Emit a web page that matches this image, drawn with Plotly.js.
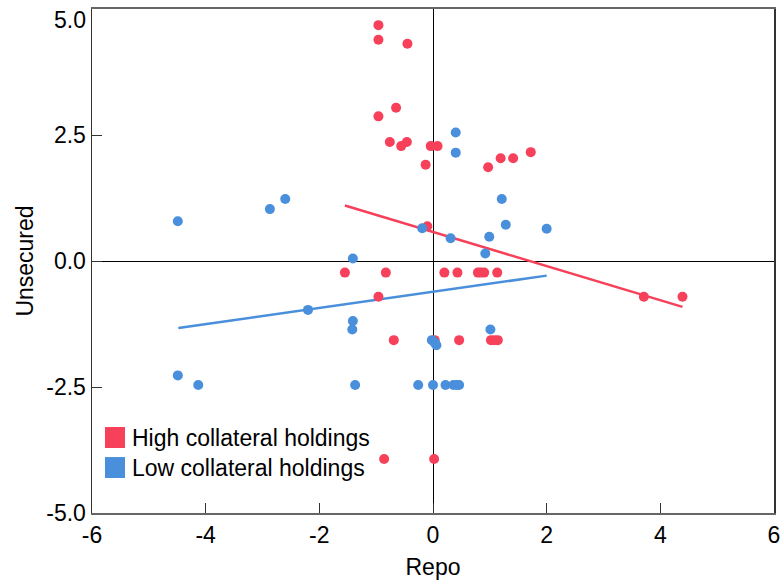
<!DOCTYPE html>
<html>
<head>
<meta charset="utf-8">
<script src="https://cdn.plot.ly/plotly-3.0.1.min.js"></script>
<style>html,body{margin:0;padding:0;background:#fff;}#chart{width:784px;height:585px;}</style>
</head>
<body>
<div id="chart"></div>
<script>
// Data
const highRepo = [-0.96, -0.96, -0.45, -0.65, -0.96, -0.76, -0.56, -0.46, -0.04, 0.08, -0.13,
  0.97, 1.19, 1.41, 1.72, -0.10,
  -1.55, -0.83, 0.20, 0.43, 0.79, 0.84, 0.90, 1.13,
  -0.96, 3.71, 4.39,
  -0.69, 0.03, 0.46, 1.02, 1.08, 1.14,
  -0.86, 0.02];
const highUnsecured = [4.68, 4.39, 4.31, 3.04, 2.87, 2.36, 2.28, 2.36, 2.28, 2.28, 1.91,
  1.86, 2.04, 2.04, 2.16, 0.69,
  -0.23, -0.23, -0.23, -0.23, -0.23, -0.23, -0.23, -0.23,
  -0.71, -0.71, -0.71,
  -1.57, -1.57, -1.57, -1.57, -1.57, -1.57,
  -3.93, -3.93];
const lowRepo = [-4.49, -2.87, -2.60, -0.19, -1.41,
  0.40, 0.40, 1.21, 1.28, 2.00, 0.31, 0.99, 0.92,
  -2.20, -1.41, -1.42, -0.02, 0.03, 0.06, 1.01,
  -4.49, -4.13, -1.37, -0.26, 0.00, 0.22, 0.36, 0.42, 0.46];
const lowUnsecured = [0.79, 1.03, 1.23, 0.65, 0.05,
  2.55, 2.15, 1.23, 0.72, 0.64, 0.45, 0.48, 0.15,
  -0.97, -1.19, -1.36, -1.57, -1.62, -1.67, -1.36,
  -2.27, -2.46, -2.46, -2.46, -2.46, -2.46, -2.46, -2.46, -2.46];
// Fitted lines (end points)
const highFitRepo = [-1.55, 4.39];
const highFitUnsecured = [1.10, -0.91];
const lowFitRepo = [-4.48, 2.00];
const lowFitUnsecured = [-1.33, -0.29];
const seriesNames = ['High collateral holdings', 'Low collateral holdings'];
const xTickVals = [-6, -4, -2, 0, 2, 4, 6];
const xTickText = ['-6', '-4', '-2', '0', '2', '4', '6'];
const yTickVals = [5, 2.5, 0, -2.5, -5];
const yTickText = ['5.0', '2.5', '0.0', '-2.5', '-5.0'];

const RED = '#F7405A';
const BLUE = '#4A8FDC';
const COLORS = [RED, BLUE];
const FONT = 'Liberation Sans, Arial, sans-serif';
const FS = 23;

const traces = [
  {x: highFitRepo, y: highFitUnsecured, mode: 'lines', line: {color: RED, width: 2.5}, showlegend: false, hoverinfo: 'skip'},
  {x: lowFitRepo, y: lowFitUnsecured, mode: 'lines', line: {color: BLUE, width: 2.5}, showlegend: false, hoverinfo: 'skip'},
  {x: highRepo, y: highUnsecured, mode: 'markers', marker: {color: RED, size: 10}, showlegend: false, name: seriesNames[0]},
  {x: lowRepo, y: lowUnsecured, mode: 'markers', marker: {color: BLUE, size: 10}, showlegend: false, name: seriesNames[1]}
];

// y tick labels: the top one is drawn lower (as in the reference) via an annotation
const yTickTextShown = yTickText.map((t, i) => i === 0 ? '' : t);

// Manual legend (square swatches + labels) in paper coordinates
const legendShapes = [];
const legendAnns = [];
const legX0 = 0.0191, legX1 = 0.0484, legTextX = 0.0557;
const legRows = [[0.129, 0.1706], [0.0694, 0.111]];
seriesNames.forEach((nm, i) => {
  legendShapes.push({type: 'rect', xref: 'paper', yref: 'paper', x0: legX0, x1: legX1,
    y0: legRows[i][0], y1: legRows[i][1], fillcolor: COLORS[i], line: {width: 0}});
  legendAnns.push({xref: 'paper', yref: 'paper', x: legTextX, y: (legRows[i][0] + legRows[i][1]) / 2,
    xanchor: 'left', yanchor: 'middle', text: nm, showarrow: false,
    font: {family: FONT, size: FS, color: '#000'}});
});
legendAnns.push({xref: 'paper', yref: 'paper', x: 0, y: 1, xanchor: 'right', yanchor: 'middle',
  xshift: -4, yshift: -11, text: yTickText[0], showarrow: false,
  font: {family: FONT, size: FS, color: '#000'}});

const layout = {
  width: 784, height: 585,
  margin: {l: 92, r: 10, t: 9, b: 72, pad: 0},
  paper_bgcolor: '#fff', plot_bgcolor: '#fff',
  font: {family: FONT, size: FS, color: '#000'},
  showlegend: false,
  shapes: legendShapes,
  annotations: legendAnns,
  xaxis: {
    range: [-6, 6], tickvals: xTickVals, ticktext: xTickText,
    ticks: 'inside', ticklen: 10, tickwidth: 1, tickcolor: '#333',
    showline: true, linecolor: '#666', linewidth: 2, mirror: true,
    showgrid: false, zeroline: true, zerolinecolor: '#000', zerolinewidth: 1,
    tickfont: {family: FONT, size: FS, color: '#000'},
    title: {text: 'Repo', font: {family: FONT, size: FS, color: '#000'}, standoff: 12}
  },
  yaxis: {
    range: [-5, 5], tickvals: yTickVals, ticktext: yTickTextShown,
    ticks: 'inside', ticklen: 10, tickwidth: 1, tickcolor: '#333',
    showline: true, linecolor: '#333', linewidth: 1.5, mirror: true,
    showgrid: false, zeroline: true, zerolinecolor: '#000', zerolinewidth: 1,
    tickfont: {family: FONT, size: FS, color: '#000'},
    title: {text: 'Unsecured', font: {family: FONT, size: FS, color: '#000'}, standoff: 6}
  }
};

Plotly.newPlot('chart', traces, layout, {displayModeBar: false, staticPlot: true});
</script>
</body>
</html>
